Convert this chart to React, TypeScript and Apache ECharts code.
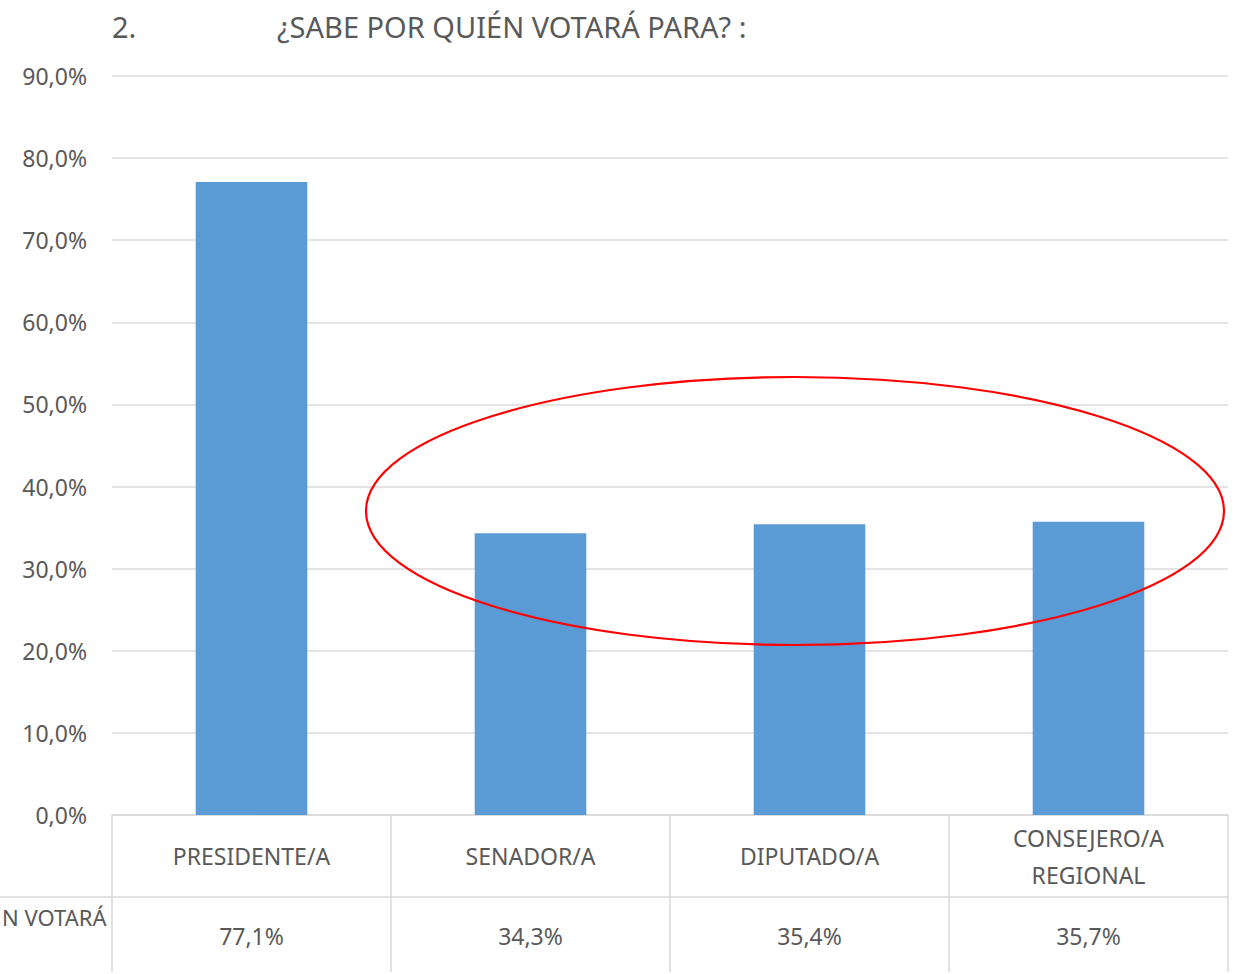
import React, { useEffect, useRef } from "react";
import * as echarts from "echarts";

const categories = ["PRESIDENTE/A", "SENADOR/A", "DIPUTADO/A", "CONSEJERO/A\nREGIONAL"];
const values = [77.1, 34.3, 35.4, 35.7];
const yTicks = { min: 0, max: 90, interval: 10 };
const titleNumber = "2.";
const titleText = "¿SABE POR QUIÉN VOTARÁ PARA? :";
const seriesLabel = "N VOTARÁ";

const FONT = "'Noto Sans', 'Open Sans', sans-serif";
const TEXT = "#595959";
const LINE = "#d9d9d9";

const fmt = (v: number) => v.toFixed(1).replace(".", ",") + "%";

export default function App() {
  const ref = useRef<HTMLDivElement>(null);
  useEffect(() => {
    if (!ref.current) return;
    const chart = echarts.init(ref.current, null, { renderer: "svg" });
    chart.setOption({
      animation: false,
      backgroundColor: "#ffffff",
      textStyle: { fontFamily: FONT },
      grid: { left: 112, right: 9, top: 76, bottom: 159, containLabel: false },
      xAxis: [
        {
          type: "category",
          data: categories,
          position: "bottom",
          axisLine: { show: true, lineStyle: { color: LINE, width: 1.5 } },
          axisTick: { show: true, length: 157, interval: 0, lineStyle: { color: LINE, width: 1.5 } },
          axisLabel: {
            interval: 0,
            margin: 41,
            verticalAlign: "middle",
            color: TEXT,
            fontSize: 23,
            lineHeight: 37,
            fontFamily: FONT,
          },
          splitLine: { show: false },
        },
        {
          type: "category",
          data: values.map(fmt),
          position: "bottom",
          offset: 82,
          axisLine: { show: true, lineStyle: { color: LINE, width: 1.5 } },
          axisTick: { show: false },
          axisLabel: {
            interval: 0,
            margin: 39,
            verticalAlign: "middle",
            color: TEXT,
            fontSize: 23,
            fontFamily: FONT,
          },
          splitLine: { show: false },
        },
      ],
      yAxis: {
        type: "value",
        min: yTicks.min,
        max: yTicks.max,
        interval: yTicks.interval,
        axisLine: { show: false },
        axisTick: { show: false },
        axisLabel: {
          margin: 25,
          color: TEXT,
          fontSize: 23,
          fontFamily: FONT,
          formatter: (v: number) => fmt(v),
        },
        splitLine: { show: true, lineStyle: { color: "#e4e4e4", width: 2 } },
      },
      series: [
        {
          type: "bar",
          data: values,
          xAxisIndex: 0,
          barWidth: "40%",
          itemStyle: { color: "#5B9BD5" },
        },
      ],
      graphic: [
        {
          type: "text",
          left: 112,
          top: 12,
          style: { text: titleNumber, fill: TEXT, font: `29px ${FONT}` },
        },
        {
          type: "text",
          left: 277,
          top: 12,
          style: { text: titleText, fill: TEXT, font: `29px ${FONT}` },
        },
        {
          type: "text",
          x: 2,
          y: 917,
          style: { text: seriesLabel, fill: TEXT, font: `22px ${FONT}`, align: "left", verticalAlign: "middle" },
        },
        {
          type: "line",
          shape: { x1: 0, y1: 897, x2: 112, y2: 897 },
          style: { stroke: LINE, lineWidth: 1.5 },
        },
        {
          type: "ellipse",
          shape: { cx: 795, cy: 511, rx: 429, ry: 134 },
          style: { fill: "none", stroke: "#ff0000", lineWidth: 2.2 },
          z: 100,
        },
      ],
    });
    return () => chart.dispose();
  }, []);
  return (
    <div
      ref={ref}
      style={{ position: "absolute", left: 0, top: 0, width: 1237, height: 974 }}
    />
  );
}
